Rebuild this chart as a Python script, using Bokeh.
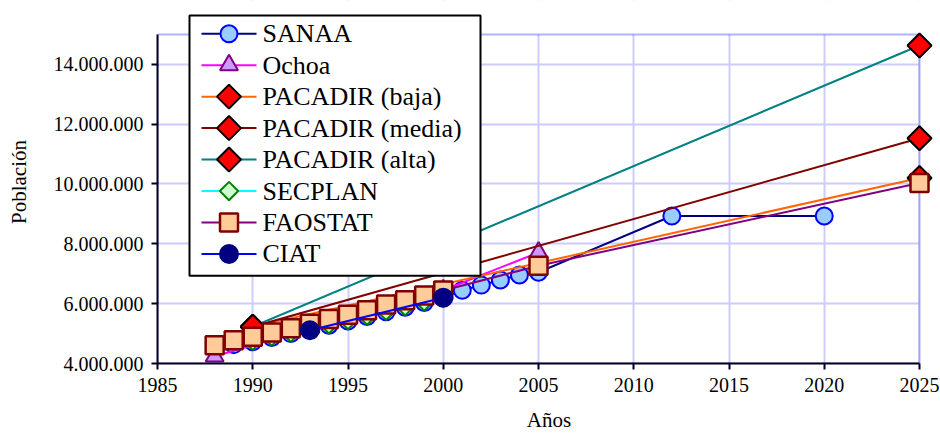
import math
from bokeh.plotting import figure
from bokeh.models import (Range1d, SingleIntervalTicker, CustomJSTickFormatter,
                          BoxAnnotation)
from bokeh.core.properties import value
from bokeh.embed import file_html
from bokeh.resources import INLINE

# ---------------- data ----------------
series_names = ["SANAA", "Ochoa", "PACADIR (baja)", "PACADIR (media)",
                "PACADIR (alta)", "SECPLAN", "FAOSTAT", "CIAT"]

sanaa_years = [1989, 1990, 1991, 1992, 1993, 1994, 1995, 1996, 1997, 1998, 1999,
               2000, 2001, 2002, 2003, 2004, 2005, 2012, 2020]
sanaa_pop = [4630000, 4730000, 4870000, 5000000, 5130000, 5280000, 5420000, 5570000,
             5730000, 5880000, 6040000, 6200000, 6450000, 6620000, 6790000, 6960000,
             7050000, 8930000, 8930000]

ochoa_years = [1988, 2000, 2005]
ochoa_pop = [4240000, 6450000, 7710000]

pacadir_years = [1990, 2025]
pacadir_baja = [5230000, 10200000]
pacadir_media = [5230000, 11530000]
pacadir_alta = [5230000, 14630000]

secplan_years = [1990, 1991, 1992, 1993, 1994, 1995, 1996, 1997, 1998, 1999, 2000]
secplan_pop = [4760000, 4900000, 5030000, 5160000, 5310000, 5450000, 5600000,
               5760000, 5910000, 6070000, 6230000]

faostat_years = [1988, 1989, 1990, 1991, 1992, 1993, 1994, 1995, 1996, 1997, 1998,
                 1999, 2000, 2005, 2025]
faostat_pop = [4610000, 4780000, 4890000, 5040000, 5180000, 5330000, 5490000, 5630000,
               5780000, 5970000, 6110000, 6270000, 6440000, 7270000, 10030000]

ciat_years = [1993, 2000]
ciat_pop = [5110000, 6200000]

x_label = "Años"
y_label = "Población"

X0, X1 = 1985, 2025
Y0, Y1 = 4000000, 15000000

FONT = "Liberation Serif"

# plot-area geometry (pixels)
W, H = 940, 434
LEFT, BOTTOM = 157, 70
AREA_W, AREA_H = 762, 330          # visible chart box
FRAME_W, FRAME_H = W - LEFT, H - BOTTOM

x_end = X0 + (X1 - X0) * FRAME_W / AREA_W
y_end = Y0 + (Y1 - Y0) * FRAME_H / AREA_H


def px2x(px):
    return X0 + (px - LEFT) * (X1 - X0) / AREA_W


def py2y(py):
    return Y0 + (FRAME_H - py) * (Y1 - Y0) / AREA_H


# ---------------- figure ----------------
p = figure(width=W, height=H, output_backend="svg", toolbar_location=None,
           x_range=Range1d(X0, x_end), y_range=Range1d(Y0, y_end),
           min_border_left=LEFT, min_border_right=0, min_border_top=0,
           min_border_bottom=BOTTOM)
p.background_fill_color = "white"
p.border_fill_color = "white"
p.outline_line_color = None

p.xaxis.ticker = SingleIntervalTicker(interval=5)
p.yaxis.ticker = SingleIntervalTicker(interval=2000000)
p.xaxis.bounds = (X0, X1)
p.yaxis.bounds = (Y0, Y1)
p.yaxis.formatter = CustomJSTickFormatter(
    code="return Math.round(tick).toString().replace(/\\B(?=(\\d{3})+(?!\\d))/g, '.');")

for ax in (p.xaxis[0], p.yaxis[0]):
    ax.axis_line_color = "#000020"
    ax.axis_line_width = 2
    ax.major_tick_line_color = "#000020"
    ax.major_tick_line_width = 2
    ax.major_tick_in = 0
    ax.major_tick_out = 6
    ax.minor_tick_line_color = None
    ax.major_label_text_font = FONT
    ax.major_label_text_font_size = "20px"
    ax.major_label_text_color = "black"
    ax.axis_label_text_font = FONT
    ax.axis_label_text_font_size = "21px"
    ax.axis_label_text_font_style = "normal"
    ax.axis_label_text_color = "black"

p.xaxis.axis_label = x_label
p.yaxis.axis_label = y_label
p.xaxis.major_label_standoff = 8
p.xaxis.axis_label_standoff = 13
p.yaxis.major_label_standoff = 8
p.yaxis.axis_label_standoff = 20

p.xgrid.bounds = (X0, X1)
p.ygrid.bounds = (Y0, Y1)
p.grid.grid_line_color = "#CCCCFF"
p.grid.grid_line_width = 2

# white covers outside the chart box, then the blue box border
p.add_layout(BoxAnnotation(bottom=Y1, fill_color="white", fill_alpha=1,
                           line_alpha=0, level="underlay"))
p.add_layout(BoxAnnotation(left=X1, fill_color="white", fill_alpha=1,
                           line_alpha=0, level="underlay"))
p.add_layout(BoxAnnotation(left=X0, right=X1, bottom=Y0, top=Y1, fill_alpha=0,
                           line_color="#0000FF", line_width=2, level="underlay"))

D = math.pi / 4
styles = [
    dict(line="#000080", marker="circle", size=17, fill="#99CCFF", edge="#0000FF", ew=2, angle=0),
    dict(line="#FF00FF", marker="triangle", size=18, fill="#CC99FF", edge="#800080", ew=2, angle=0),
    dict(line="#FF6600", marker="square", size=17, fill="#FF0000", edge="black", ew=2, angle=D),
    dict(line="#800000", marker="square", size=17, fill="#FF0000", edge="black", ew=2, angle=D),
    dict(line="#008080", marker="square", size=17, fill="#FF0000", edge="black", ew=2, angle=D),
    dict(line="#00FFFF", marker="square", size=13, fill="#CCFFCC", edge="#008000", ew=2, angle=D),
    dict(line="#800080", marker="square", size=18, fill="#FFCC99", edge="#800000", ew=2.5, angle=0),
    dict(line="#0000FF", marker="circle", size=18, fill="#000080", edge="#000080", ew=2, angle=0),
]
data = [
    (sanaa_years, sanaa_pop),
    (ochoa_years, ochoa_pop),
    (pacadir_years, pacadir_baja),
    (pacadir_years, pacadir_media),
    (pacadir_years, pacadir_alta),
    (secplan_years, secplan_pop),
    (faostat_years, faostat_pop),
    (ciat_years, ciat_pop),
]

for (xs, ys), st in zip(data, styles):
    p.line(xs, ys, line_color=st["line"], line_width=2)
    p.scatter(xs, ys, marker=st["marker"], size=st["size"], fill_color=st["fill"],
              line_color=st["edge"], line_width=st["ew"], angle=st["angle"])

# ---------------- legend (drawn by hand so markers keep full size) ----------------
LG_L, LG_R, LG_T, LG_B = 189, 480, 15, 276
ROW0, ROW_STEP = 33.3, 31.55
LINE_X0, LINE_X1, MARK_X, TEXT_X = 201, 256, 228.5, 262

p.quad(left=[px2x(LG_L)], right=[px2x(LG_R)], top=[py2y(LG_T)], bottom=[py2y(LG_B)],
       fill_color="white", line_color="black", line_width=2)

for i, (name, st) in enumerate(zip(series_names, styles)):
    ry = py2y(ROW0 + i * ROW_STEP)
    p.segment(x0=[px2x(LINE_X0)], y0=[ry], x1=[px2x(LINE_X1)], y1=[ry],
              line_color=st["line"], line_width=2)
    p.scatter([px2x(MARK_X)], [ry], marker=st["marker"], size=st["size"],
              fill_color=st["fill"], line_color=st["edge"], line_width=st["ew"],
              angle=st["angle"])
    p.text([px2x(TEXT_X)], [ry], text=[name], text_font=value(FONT),
           text_font_size="26px", text_baseline="middle", text_align="left",
           text_color="black")

open("out.html", "w").write(file_html(p, INLINE))
